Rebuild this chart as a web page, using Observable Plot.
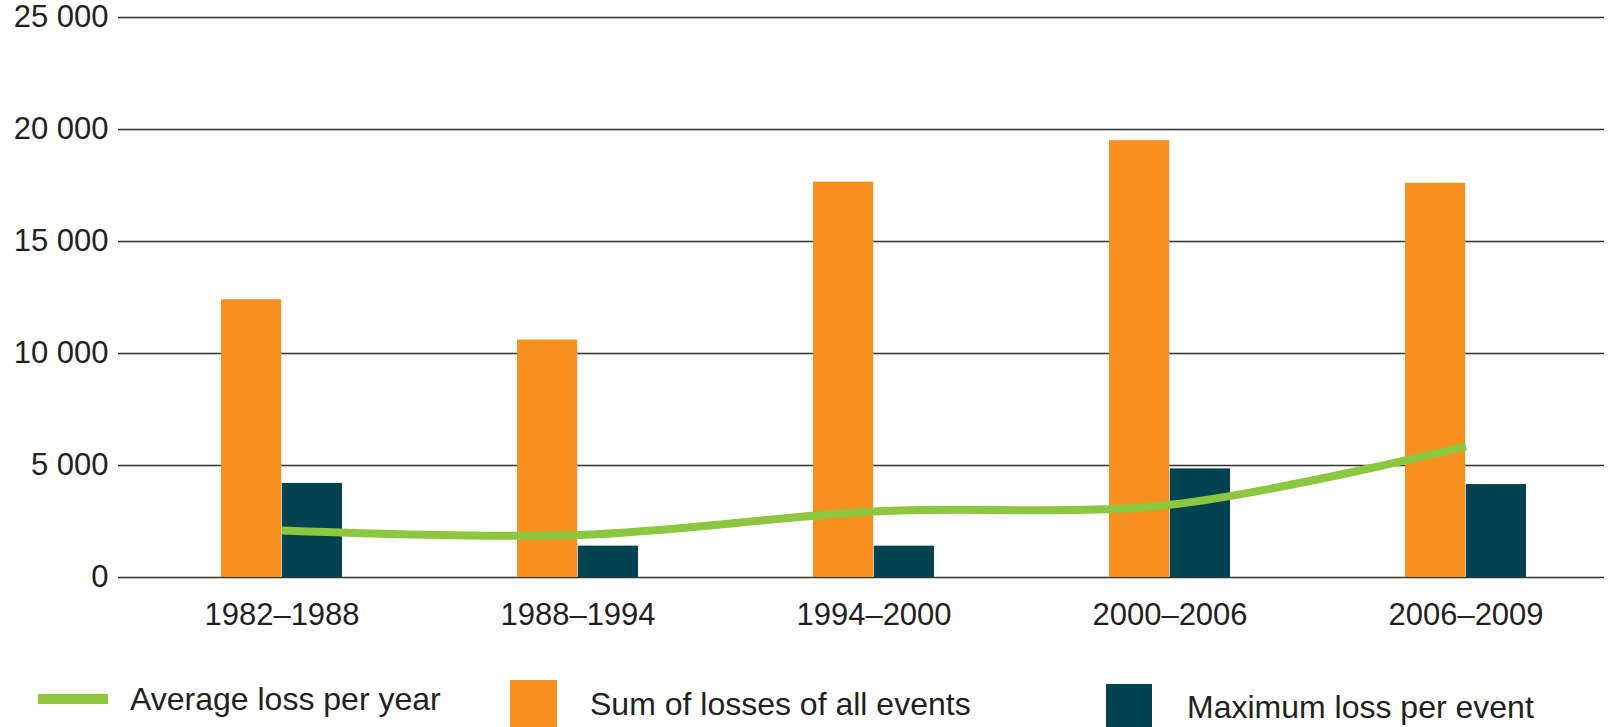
<!DOCTYPE html>
<html>
<head>
<meta charset="utf-8">
<script src="https://cdn.jsdelivr.net/npm/d3@7"></script>
<script src="https://cdn.jsdelivr.net/npm/@observablehq/plot@0.6"></script>
<style>
  html, body { margin: 0; padding: 0; background: #fff; }
  #wrap { position: relative; width: 1610px; height: 727px; overflow: hidden; font-family: "Liberation Sans", Arial, Helvetica, sans-serif; color: #231f20; }
  #chart { position: absolute; left: 0; top: 0; }
  .lg { position: absolute; }
  .lgt { position: absolute; font-size: 32px; line-height: 32px; white-space: nowrap; color: #231f20; }
</style>
</head>
<body>
<div id="wrap">
  <div id="chart"></div>
  <div id="legend"></div>
</div>
<script>
// Data
const periods = ["1982–1988", "1988–1994", "1994–2000", "2000–2006", "2006–2009"];
const sumLosses = [12400, 10600, 17650, 19500, 17600];
const maxLoss = [4200, 1400, 1400, 4850, 4150];
const avgLoss = [2100, 1900, 2950, 3250, 5850];
const yTicks = [0, 5000, 10000, 15000, 20000, 25000];
const seriesNames = ["Average loss per year", "Sum of losses of all events", "Maximum loss per event"];
const colors = { avg: "#8dc63f", sum: "#f7901e", max: "#024350" };

const rows = periods.map((p, i) => ({ period: p, sum: sumLosses[i], max: maxLoss[i], avg: avgLoss[i] }));
const fmt = v => d3.format(",")(v).replace(/,/g, " ");
const half = 60.8;

const chart = Plot.plot({
  width: 1610,
  height: 650,
  marginLeft: 118,
  marginRight: 6,
  marginTop: 17,
  marginBottom: 73,
  style: { fontFamily: '"Liberation Sans", Arial, Helvetica, sans-serif', fontSize: "31px", color: "#231f20", background: "#fff" },
  x: { type: "band", domain: periods, paddingInner: 0.59, paddingOuter: 0.3, align: 0.57, label: null },
  y: { domain: [0, 25000], label: null },
  marks: [
    Plot.ruleY(yTicks, { stroke: "#333", strokeWidth: 1.6 }),
    Plot.barY(rows, { x: "period", y: "sum", fill: colors.sum, insetRight: half, insetLeft: 0 }),
    Plot.barY(rows, { x: "period", y: "max", fill: colors.max, insetLeft: half, insetRight: 0 }),
    Plot.line(rows, { x: "period", y: "avg", stroke: colors.avg, strokeWidth: 8, curve: "catmull-rom", strokeLinecap: "butt" }),
    Plot.axisY({ ticks: yTicks, tickFormat: fmt, tickSize: 0, tickPadding: 10, fontSize: 31, label: null }),
    Plot.axisX({ tickSize: 0, tickPadding: 25, fontSize: 31, label: null })
  ]
});
document.getElementById("chart").appendChild(chart);

// Legend (HTML, below the plot area)
const legend = document.getElementById("legend");
const items = [
  { kind: "line", color: colors.avg, box: [38, 694, 70, 10], text: seriesNames[0], tx: 130, ty: 683 },
  { kind: "box", color: colors.sum, box: [510, 680, 47, 47], text: seriesNames[1], tx: 590, ty: 688 },
  { kind: "box", color: colors.max, box: [1106, 684, 46, 43], text: seriesNames[2], tx: 1187, ty: 691 }
];
for (const it of items) {
  const sw = document.createElement("div");
  sw.className = "lg";
  sw.style.left = it.box[0] + "px";
  sw.style.top = it.box[1] + "px";
  sw.style.width = it.box[2] + "px";
  sw.style.height = it.box[3] + "px";
  sw.style.background = it.color;
  legend.appendChild(sw);
  const t = document.createElement("div");
  t.className = "lgt";
  t.style.left = it.tx + "px";
  t.style.top = it.ty + "px";
  t.textContent = it.text;
  legend.appendChild(t);
}
</script>
</body>
</html>
